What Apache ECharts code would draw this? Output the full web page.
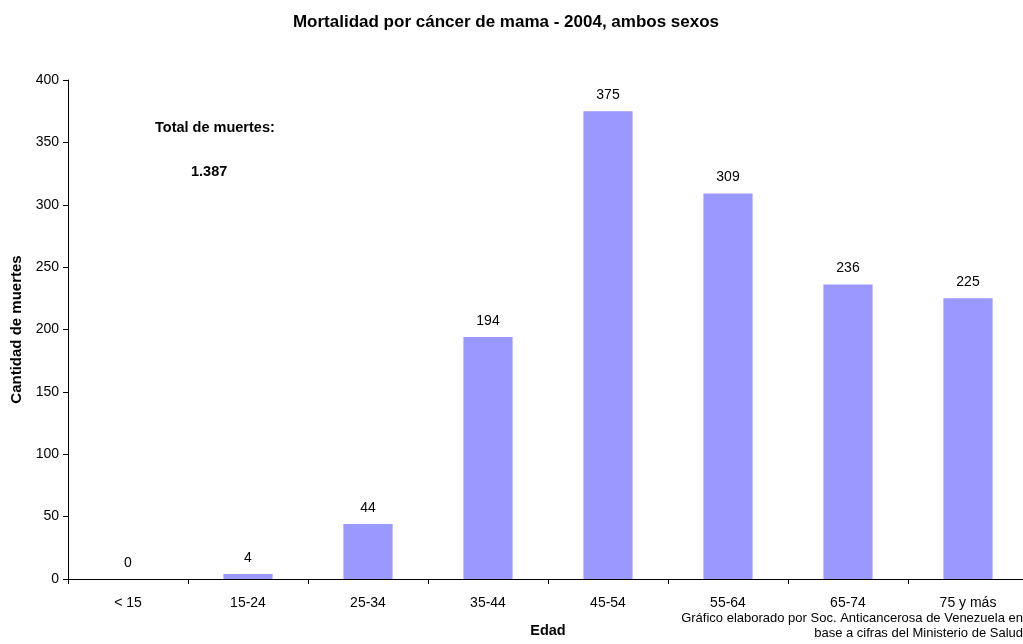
<!DOCTYPE html>
<html>
<head>
<meta charset="utf-8">
<script src="https://cdn.jsdelivr.net/npm/echarts@6/dist/echarts.min.js"></script>
<style>html,body{margin:0;padding:0;background:#fff}#c{width:1023px;height:644px}</style>
</head>
<body>
<div id="c"></div>
<script>
const categories = ['< 15','15-24','25-34','35-44','45-54','55-64','65-74','75 y más'];
const deaths = [0, 4, 44, 194, 375, 309, 236, 225];
const yTicks = {min: 0, max: 400, interval: 50};
const titleText = 'Mortalidad por cáncer de mama - 2004, ambos sexos';
const totalLabel = 'Total de muertes:';
const totalValue = '1.387';
const sourceNote = ['Gráfico elaborado por Soc. Anticancerosa de Venezuela en', 'base a cifras del Ministerio de Salud'];

const chart = echarts.init(document.getElementById('c'), null, {renderer: 'canvas'});
const F = 'Liberation Sans, Arial, sans-serif';
chart.setOption({
  animation: false,
  backgroundColor: '#fff',
  textStyle: {fontFamily: F},
  title: {
    text: titleText, left: 501, top: 9, textAlign: 'center',
    textStyle: {fontFamily: F, fontSize: 17, fontWeight: 'bold', color: '#000'}
  },
  grid: {left: 68, top: 80, width: 960, height: 499, containLabel: false, outerBoundsMode: 'none'},
  xAxis: {
    type: 'category', data: categories,
    name: 'Edad', nameLocation: 'middle', nameGap: 44,
    nameTextStyle: {fontFamily: F, fontSize: 14.5, fontWeight: 'bold', color: '#000'},
    axisLine: {lineStyle: {color: '#000', width: 1}},
    axisTick: {show: true, alignWithLabel: false, length: 5, inside: false, lineStyle: {color: '#000'}},
    axisLabel: {color: '#000', fontSize: 14, fontFamily: F, margin: 17, interval: 0}
  },
  yAxis: {
    type: 'value', min: yTicks.min, max: yTicks.max, interval: yTicks.interval,
    name: 'Cantidad de muertes', nameLocation: 'middle', nameGap: 43, nameRotate: 90,
    nameTextStyle: {fontFamily: F, fontSize: 15, fontWeight: 'bold', color: '#000'},
    axisLine: {show: true, lineStyle: {color: '#000', width: 1}},
    axisTick: {show: true, length: 5, lineStyle: {color: '#000'}},
    axisLabel: {color: '#000', fontSize: 14, fontFamily: F, margin: 9},
    splitLine: {show: false}
  },
  series: [{
    type: 'bar', data: deaths, barWidth: '41%',
    itemStyle: {color: '#9999FF'},
    label: {show: true, position: 'top', distance: 9, color: '#000', fontSize: 14, fontFamily: F}
  }],
  graphic: [
    {type: 'text', left: 155, top: 120, style: {text: totalLabel, font: 'bold 14.5px ' + F, fill: '#000'}},
    {type: 'text', left: 191, top: 164, style: {text: totalValue, font: 'bold 14.5px ' + F, fill: '#000'}},
    {type: 'text', right: 0, top: 612, style: {text: sourceNote[0], font: '13px ' + F, fill: '#000'}},
    {type: 'text', right: 0, top: 627, style: {text: sourceNote[1], font: '13px ' + F, fill: '#000'}}
  ]
});
</script>
</body>
</html>
